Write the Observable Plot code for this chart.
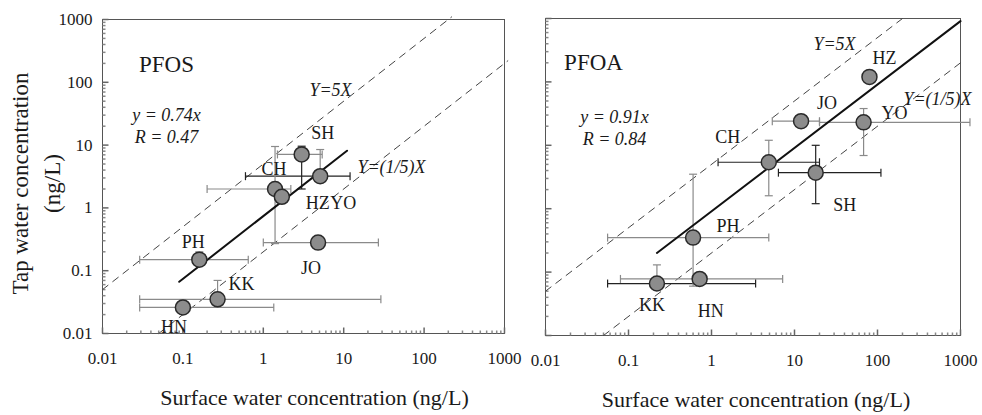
<!DOCTYPE html>
<html><head><meta charset="utf-8">
<script src="https://cdn.jsdelivr.net/npm/d3@7"></script>
<script src="https://cdn.jsdelivr.net/npm/@observablehq/plot@0.6"></script>
<style>
body{margin:0;background:#fff;}
#chart{position:relative;width:982px;height:415px;overflow:hidden;background:#fff;}
#chart svg{position:absolute;top:0;overflow:visible;background:transparent;}
</style></head><body><div id="chart"></div>
<script>
// ---------------- data ----------------
const sitesPFOS = ["SH","YO","CH","HZ","JO","PH","KK","HN"];
const surfPFOS  = [3.0, 5.1, 1.4, 1.7, 4.8, 0.16, 0.27, 0.1];
const tapPFOS   = [7.1, 3.2, 2.0, 1.5, 0.28, 0.15, 0.035, 0.026];
const surfLoPFOS = [1.5, 0.6, 0.2, null, 1.0, 0.029, 0.029, 0.029];
const surfHiPFOS = [5.4, 12, 2.2, null, 27, 0.65, 29, 1.35];
const tapLoPFOS  = [2.0, null, 0.27, null, null, 0.125, null, null];
const tapHiPFOS  = [9.6, 8.5, 9.5, null, null, 0.2, 0.07, null];
const slopePFOS = 0.74, rPFOS = 0.47, fitRangePFOS = [0.09, 11];

const sitesPFOA = ["HZ","JO","YO","CH","SH","PH","KK","HN"];
const surfPFOA  = [80, 12, 68, 4.9, 18, 0.6, 0.22, 0.72];
const tapPFOA   = [120, 24, 23, 5.4, 3.7, 0.35, 0.066, 0.078];
const surfLoPFOA = [null, 5.4, 20, 1.2, 6.4, 0.056, 0.056, 0.08];
const surfHiPFOA = [null, 20, 1300, 20, 110, 4.9, 3.4, 7.2];
const tapLoPFOA  = [null, null, 6.9, 1.6, 1.2, 0.06, null, null];
const tapHiPFOA  = [null, null, 38, 12, 10, 3.5, 0.13, null];
const slopePFOA = 0.91, rPFOA = 0.84, fitRangePFOA = [0.22, 1000];

const guideSlopes = [5, 0.2];
const guideRange5X = [0.01, 220];
const guideRangeFifthX = [0.05, 1100];

const axisTicks = [0.01, 0.1, 1, 10, 100, 1000];
const axisTickLabels = ["0.01", "0.1", "1", "10", "100", "1000"];
const xTitle = "Surface water concentration (ng/L)";
const yTitle1 = "Tap water concentration";
const yTitle2 = "(ng/L)";

// ---------------- helpers ----------------
const FONT = "'Liberation Serif','Times New Roman',serif";
const INK = "#1a1a1a";
const minorTicks = [];
for (const dec of [0.01, 0.1, 1, 10, 100]) for (let k = 2; k <= 9; k++) minorTicks.push(+(k * dec).toPrecision(3));
const fmt = d => axisTickLabels[axisTicks.indexOf(d)] ?? "";

const sym = f => ({draw(ctx, size){ const r = Math.sqrt(size / Math.PI); f(ctx, r); }});
const capV = sym((c, r) => { c.moveTo(0, -r); c.lineTo(0, r); });
const capH = sym((c, r) => { c.moveTo(-r, 0); c.lineTo(r, 0); });
const tickRight = sym((c, r) => { c.moveTo(0, 0); c.lineTo(r, 0); });
const tickUp = sym((c, r) => { c.moveTo(0, 0); c.lineTo(0, -r); });

function rowsOf(sites, x, y, xl, xh, yl, yh) {
  return sites.map((s, i) => ({site: s, x: x[i], y: y[i], xLo: xl[i], xHi: xh[i], yLo: yl[i], yHi: yh[i]}));
}

function panel(o) {
  const rows = o.rows;
  const xb = rows.filter(d => d.xLo != null || d.xHi != null).map(d => ({...d, a: d.xLo ?? d.x, b: d.xHi ?? d.x, solid: o.solid.includes(d.site + "-x")}));
  const yb = rows.filter(d => d.yLo != null || d.yHi != null).map(d => ({...d, a: d.yLo ?? d.y, b: d.yHi ?? d.y, solid: o.solid.includes(d.site + "-y")}));
  const barStroke = d => d.solid ? "#222" : "#8a8a8a";
  const guides = [
    guideRange5X.map(x => ({x, y: guideSlopes[0] * x})),
    guideRangeFifthX.map(x => ({x, y: guideSlopes[1] * x}))
  ];
  const fit = o.fitRange.map(x => ({x, y: o.slope * x}));
  const marks = [
    Plot.frame({stroke: "#555", strokeWidth: 1}),
    Plot.dot(axisTicks, {y: d => d, frameAnchor: "left", symbol: tickRight, r: 6, stroke: "#666"}),
    Plot.dot(minorTicks, {y: d => d, frameAnchor: "left", symbol: tickRight, r: 3, stroke: "#888"}),
    Plot.dot(axisTicks, {x: d => d, frameAnchor: "bottom", symbol: tickUp, r: 6, stroke: "#666"}),
    Plot.dot(minorTicks, {x: d => d, frameAnchor: "bottom", symbol: tickUp, r: 3, stroke: "#888"}),
    Plot.text(axisTicks, {x: d => d, frameAnchor: "bottom", text: fmt, dy: 30, fontSize: 17, fill: INK}),
    ...guides.map(g => Plot.line(g, {x: "x", y: "y", stroke: "#444", strokeWidth: 1, strokeDasharray: "7,6"})),
    Plot.link(xb, {x1: "a", x2: "b", y1: "y", y2: "y", stroke: barStroke, strokeWidth: 1.2, strokeDasharray: d => d.solid ? null : "2,1"}),
    Plot.link(yb, {x1: "x", x2: "x", y1: "a", y2: "b", stroke: barStroke, strokeWidth: 1.2, strokeDasharray: d => d.solid ? null : "2,1"}),
    Plot.dot(xb.filter(d => d.xLo != null), {x: "xLo", y: "y", symbol: capV, r: 4, stroke: barStroke, strokeWidth: 1.2}),
    Plot.dot(xb.filter(d => d.xHi != null), {x: "xHi", y: "y", symbol: capV, r: 4, stroke: barStroke, strokeWidth: 1.2}),
    Plot.dot(yb.filter(d => d.yLo != null), {x: "x", y: "yLo", symbol: capH, r: 4, stroke: barStroke, strokeWidth: 1.2}),
    Plot.dot(yb.filter(d => d.yHi != null), {x: "x", y: "yHi", symbol: capH, r: 4, stroke: barStroke, strokeWidth: 1.2}),
    Plot.line(fit, {x: "x", y: "y", stroke: "#111", strokeWidth: 2}),
    Plot.dot(rows, {x: "x", y: "y", r: 7.5, fill: "#8c8c8c", stroke: "#2a2a2a", strokeWidth: 1.5}),
    ...rows.map(d => Plot.text([d], {x: "x", y: "y", text: "site", dx: o.labelOff[d.site][0], dy: o.labelOff[d.site][1], fontSize: 18, fill: INK})),
    Plot.text([o.name], {text: d => d, frameAnchor: "top-left", dx: o.nameOff[0], dy: o.nameOff[1], textAnchor: "middle", fontSize: 23, fill: INK}),
    Plot.text([`y = ${o.slope.toFixed(2)}x`], {text: d => d, frameAnchor: "top-left", dx: o.eqOff[0], dy: o.eqOff[1], textAnchor: "middle", fontSize: 18, fontStyle: "italic", fill: INK}),
    Plot.text([`R = ${o.r.toFixed(2)}`], {text: d => d, frameAnchor: "top-left", dx: o.eqOff[0], dy: o.eqOff[1] + 22, textAnchor: "middle", fontSize: 18, fontStyle: "italic", fill: INK}),
    Plot.text(["Y=5X"], {text: d => d, frameAnchor: "top-left", dx: o.g5Off[0], dy: o.g5Off[1], textAnchor: "middle", fontSize: 18, fontStyle: "italic", fill: INK}),
    Plot.text(["Y=(1/5)X"], {text: d => d, frameAnchor: "top-left", dx: o.g15Off[0], dy: o.g15Off[1], textAnchor: "middle", fontSize: 18, fontStyle: "italic", fill: INK}),
    Plot.text([xTitle], {text: d => d, frameAnchor: "bottom", dx: o.xTitleDx, dy: 71, textAnchor: "middle", fontSize: 22, fill: INK})
  ];
  if (o.yAxis) {
    marks.push(Plot.text(axisTicks, {y: d => d, frameAnchor: "left", text: fmt, dx: -10, textAnchor: "end", fontSize: 17, fill: INK}));
    marks.push(Plot.text([yTitle1], {text: d => d, frameAnchor: "left", textAnchor: "middle", rotate: -90, dx: -82, dy: 7, fontSize: 23, fill: INK}));
    marks.push(Plot.text([yTitle2], {text: d => d, frameAnchor: "left", textAnchor: "middle", rotate: -90, dx: -50, dy: 7, fontSize: 23, fill: INK}));
  }
  const svg = Plot.plot({
    width: o.width, height: 415,
    marginLeft: o.mL, marginRight: o.mR, marginTop: o.mT, marginBottom: o.mB,
    style: {fontFamily: FONT, fontSize: "17px", color: INK, background: "transparent", overflow: "visible"},
    x: {type: "log", domain: [0.01, 1000], axis: null, label: null},
    y: {type: "log", domain: [0.01, 1000], axis: null, label: null},
    marks
  });
  svg.style.left = o.left + "px";
  return svg;
}

const chart = document.getElementById("chart");
chart.append(panel({
  rows: rowsOf(sitesPFOS, surfPFOS, tapPFOS, surfLoPFOS, surfHiPFOS, tapLoPFOS, tapHiPFOS),
  slope: slopePFOS, r: rPFOS, fitRange: fitRangePFOS, name: "PFOS",
  left: 0, width: 525, mL: 102, mR: 21, mT: 19, mB: 82, yAxis: true,
  solid: ["YO-x", "SH-y"],
  labelOff: {SH: [21, -21], CH: [-1, -20], HZ: [36, 6], YO: [23, 27], JO: [-7, 26], PH: [-6, -17], KK: [24, -15], HN: [-9, 20]},
  nameOff: [64, 36], eqOff: [64, 89], g5Off: [228, 64], g15Off: [289, 141], xTitleDx: 11
}));
chart.append(panel({
  rows: rowsOf(sitesPFOA, surfPFOA, tapPFOA, surfLoPFOA, surfHiPFOA, tapLoPFOA, tapHiPFOA),
  slope: slopePFOA, r: rPFOA, fitRange: fitRangePFOA, name: "PFOA",
  left: 520, width: 462, mL: 25, mR: 22, mT: 18, mB: 80, yAxis: false,
  solid: ["CH-x", "SH-x", "SH-y", "KK-x"],
  labelOff: {HZ: [15, -19], JO: [26, -18], YO: [31, -9], CH: [-41, -25], SH: [29, 33], PH: [35, -11], KK: [-5, 22], HN: [11, 32]},
  nameOff: [48, 35], eqOff: [69, 92], g5Off: [289, 19], g15Off: [392, 74], xTitleDx: 3
}));
</script></body></html>
